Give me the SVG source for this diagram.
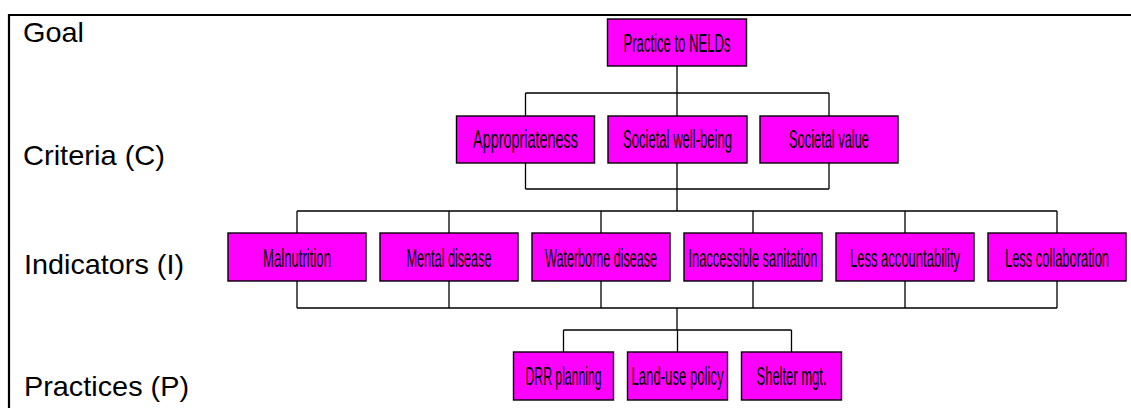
<svg xmlns="http://www.w3.org/2000/svg" width="1131" height="408" viewBox="0 0 1131 408">
<style>
.frame{stroke:#000;stroke-width:2.2;fill:none}
.lvl{font-family:"Liberation Sans",Arial,sans-serif;font-size:28px;fill:#000}
.box{fill:#ff00ff;stroke:#000;stroke-width:1.4}
.bt{font-family:"Liberation Sans",Arial,sans-serif;font-size:25px;fill:#000;text-anchor:middle}
.con{stroke:#000;stroke-width:1.3;fill:none}
</style>
<rect width="1131" height="408" fill="#fff"/>
<g id="frame">
<path class="frame" d="M9,408 V15 H1131"/>
</g>
<g id="level-labels">
<text class="lvl" x="23" y="42" textLength="61" lengthAdjust="spacingAndGlyphs">Goal</text>
<text class="lvl" x="23" y="165" textLength="142" lengthAdjust="spacingAndGlyphs">Criteria (C)</text>
<text class="lvl" x="24" y="274" textLength="160" lengthAdjust="spacingAndGlyphs">Indicators (I)</text>
<text class="lvl" x="24" y="396" textLength="165" lengthAdjust="spacingAndGlyphs">Practices (P)</text>
</g>
<g id="connectors">
<path class="con" d="M677,66 V93 M525.5,93 H829 M525.5,93 V116 M677,93 V116 M829,93 V116"/>
<path class="con" d="M525.5,163 V189 M677,163 V189 M829,163 V189 M525.5,189 H829 M677,189 V211"/>
<path class="con" d="M297,211 H1057 M297,211 V233 M449,211 V233 M601,211 V233 M753,211 V233 M905,211 V233 M1057,211 V233"/>
<path class="con" d="M297,281 V308 M449,281 V308 M601,281 V308 M753,281 V308 M905,281 V308 M1057,281 V308 M297,308 H1057 M677,308 V330"/>
<path class="con" d="M563.5,330 H791.5 M563.5,330 V352 M677.5,330 V352 M791.5,330 V352"/>
</g>
<g id="goal">
<rect class="box" x="607.5" y="19" width="139" height="47"/>
<text class="bt" transform="translate(677,51.5) scale(0.55,1)" textLength="194.5" lengthAdjust="spacingAndGlyphs">Practice to NELDs</text>
</g>
<g id="c-appropriateness">
<rect class="box" x="456.5" y="116" width="138" height="47"/>
<text class="bt" transform="translate(525.5,147.5) scale(0.55,1)" textLength="190.9" lengthAdjust="spacingAndGlyphs">Appropriateness</text>
</g>
<g id="c-wellbeing">
<rect class="box" x="608" y="116" width="139" height="47"/>
<text class="bt" transform="translate(677.5,147.5) scale(0.55,1)" textLength="198.2" lengthAdjust="spacingAndGlyphs">Societal well-being</text>
</g>
<g id="c-value">
<rect class="box" x="760" y="116" width="138" height="47"/>
<text class="bt" transform="translate(829,147.5) scale(0.55,1)" textLength="145.5" lengthAdjust="spacingAndGlyphs">Societal value</text>
</g>
<g id="i-malnutrition">
<rect class="box" x="228" y="233" width="138" height="48"/>
<text class="bt" transform="translate(297,266.5) scale(0.55,1)" textLength="123.6" lengthAdjust="spacingAndGlyphs">Malnutrition</text>
</g>
<g id="i-mental">
<rect class="box" x="380" y="233" width="138" height="48"/>
<text class="bt" transform="translate(449,266.5) scale(0.55,1)" textLength="154.5" lengthAdjust="spacingAndGlyphs">Mental disease</text>
</g>
<g id="i-waterborne">
<rect class="box" x="532" y="233" width="138" height="48"/>
<text class="bt" transform="translate(601,266.5) scale(0.55,1)" textLength="203.6" lengthAdjust="spacingAndGlyphs">Waterborne disease</text>
</g>
<g id="i-sanitation">
<rect class="box" x="684" y="233" width="138" height="48"/>
<text class="bt" transform="translate(753,266.5) scale(0.55,1)" textLength="234.5" lengthAdjust="spacingAndGlyphs">Inaccessible sanitation</text>
</g>
<g id="i-accountability">
<rect class="box" x="836" y="233" width="138" height="48"/>
<text class="bt" transform="translate(905,266.5) scale(0.55,1)" textLength="200" lengthAdjust="spacingAndGlyphs">Less accountability</text>
</g>
<g id="i-collaboration">
<rect class="box" x="988" y="233" width="138" height="48"/>
<text class="bt" transform="translate(1057,266.5) scale(0.55,1)" textLength="189.1" lengthAdjust="spacingAndGlyphs">Less collaboration</text>
</g>
<g id="p-drr">
<rect class="box" x="513.5" y="352" width="100" height="48"/>
<text class="bt" transform="translate(563.5,385) scale(0.55,1)" textLength="138.2" lengthAdjust="spacingAndGlyphs">DRR planning</text>
</g>
<g id="p-landuse">
<rect class="box" x="627.5" y="352" width="100" height="48"/>
<text class="bt" transform="translate(677.5,385) scale(0.55,1)" textLength="167.3" lengthAdjust="spacingAndGlyphs">Land-use policy</text>
</g>
<g id="p-shelter">
<rect class="box" x="741.5" y="352" width="100" height="48"/>
<text class="bt" transform="translate(791.5,385) scale(0.55,1)" textLength="127.3" lengthAdjust="spacingAndGlyphs">Shelter mgt.</text>
</g>
</svg>
